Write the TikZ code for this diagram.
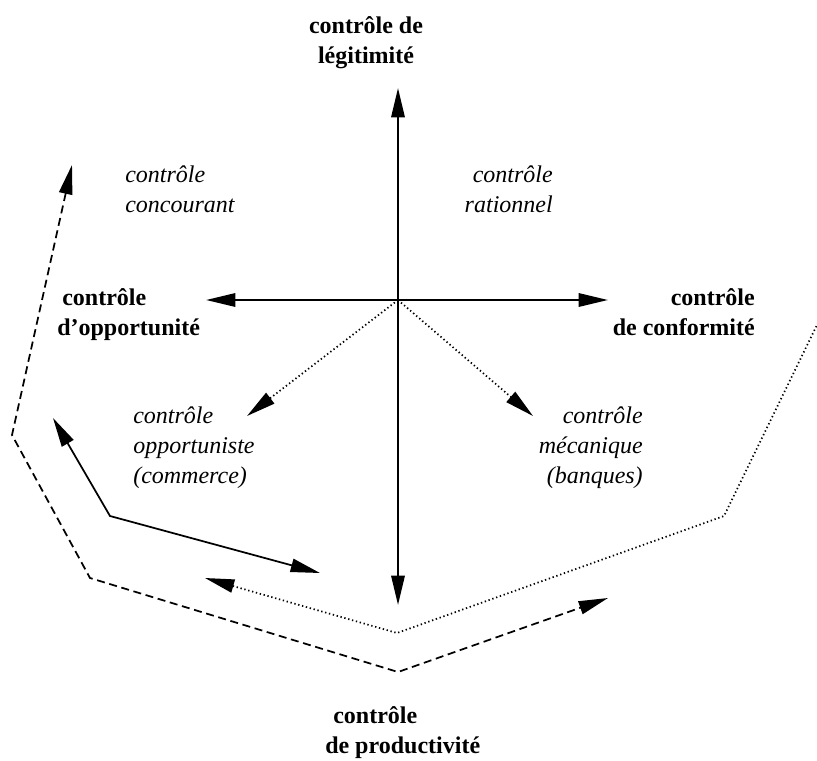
\documentclass[tikz,border=0pt]{standalone}
\usepackage{fontspec}
\setmainfont{Liberation Serif}
\usetikzlibrary{arrows.meta}
\begin{document}
\begin{tikzpicture}[x=0.75pt,y=-0.75pt,
  endtip/.style={-{Triangle[length=22pt,width=10pt]}},
  bothtips/.style={{Triangle[length=22pt,width=10pt]}-{Triangle[length=22pt,width=10pt]}},
  axisline/.style={line width=1.6pt},
  thinline/.style={line width=1.3pt},
  dotline/.style={line width=1.3pt, dash pattern=on 1pt off 2pt},
  dashline/.style={line width=1.3pt, dash pattern=on 6pt off 3.5pt},
  bl/.style={font=\fontsize{18}{22.5}\selectfont\bfseries, inner sep=0pt},
  it/.style={font=\fontsize{18}{22.5}\selectfont\itshape, inner sep=0pt},
]
\useasboundingbox (0,0) rectangle (817,760);
% coordinates
\coordinate (O) at (398,300);
\coordinate (T) at (398,88);
\coordinate (B) at (398,605);
\coordinate (L) at (206,300);
\coordinate (R) at (608,300);
\coordinate (DL) at (247,416);
\coordinate (DR) at (533,416);
\coordinate (d1) at (72,165);
\coordinate (d2) at (12,435);
\coordinate (d3) at (90,578);
\coordinate (d4) at (398,672);
\coordinate (d5) at (608,598);
\coordinate (p1) at (205,578);
\coordinate (p2) at (397,633);
\coordinate (p3) at (724,516);
\coordinate (p4) at (851,255);
\coordinate (s1) at (53,418);
\coordinate (s2) at (110,516);
\coordinate (s3) at (320,573);

% axes
\draw[axisline, bothtips] (T) -- (B);
\draw[axisline, bothtips] (L) -- (R);
\draw[dotline, endtip] (O) -- (DL);
\draw[dotline, endtip] (O) -- (DR);

% outer paths
\draw[dashline, bothtips] (d1) -- (d2) -- (d3) -- (d4) -- (d5);
\begin{scope}
\clip (0,0) rectangle (817,760);
\draw[dotline, bothtips] (p1) -- (p2) -- (p3) -- (p4);
\end{scope}
\draw[thinline, bothtips] (s1) -- (s2) -- (s3);

% labels
\node[bl, anchor=north, align=center] (leg) at (366,16) {contrôle de\\légitimité};
\node[bl, anchor=north west, align=left] (opp) at (57,288) {\hspace*{3.75pt}contrôle\\d’opportunité};
\node[bl, anchor=north east, align=right] (conf) at (755,288) {contrôle\\de conformité};
\node[bl, anchor=north west, align=left] (prod) at (325,706) {\hspace*{6pt}contrôle\\de productivité};
\node[it, anchor=north west, align=left] (conc) at (125,166) {contrôle\\concourant};
\node[it, anchor=north east, align=right] (rat) at (553,166) {contrôle\\rationnel};
\node[it, anchor=north west, align=left] (oppo) at (133,407) {contrôle\\opportuniste\\(commerce)};
\node[it, anchor=north east, align=right] (meca) at (643,407) {contrôle\\mécanique\\(banques)};
\end{tikzpicture}
\end{document}
